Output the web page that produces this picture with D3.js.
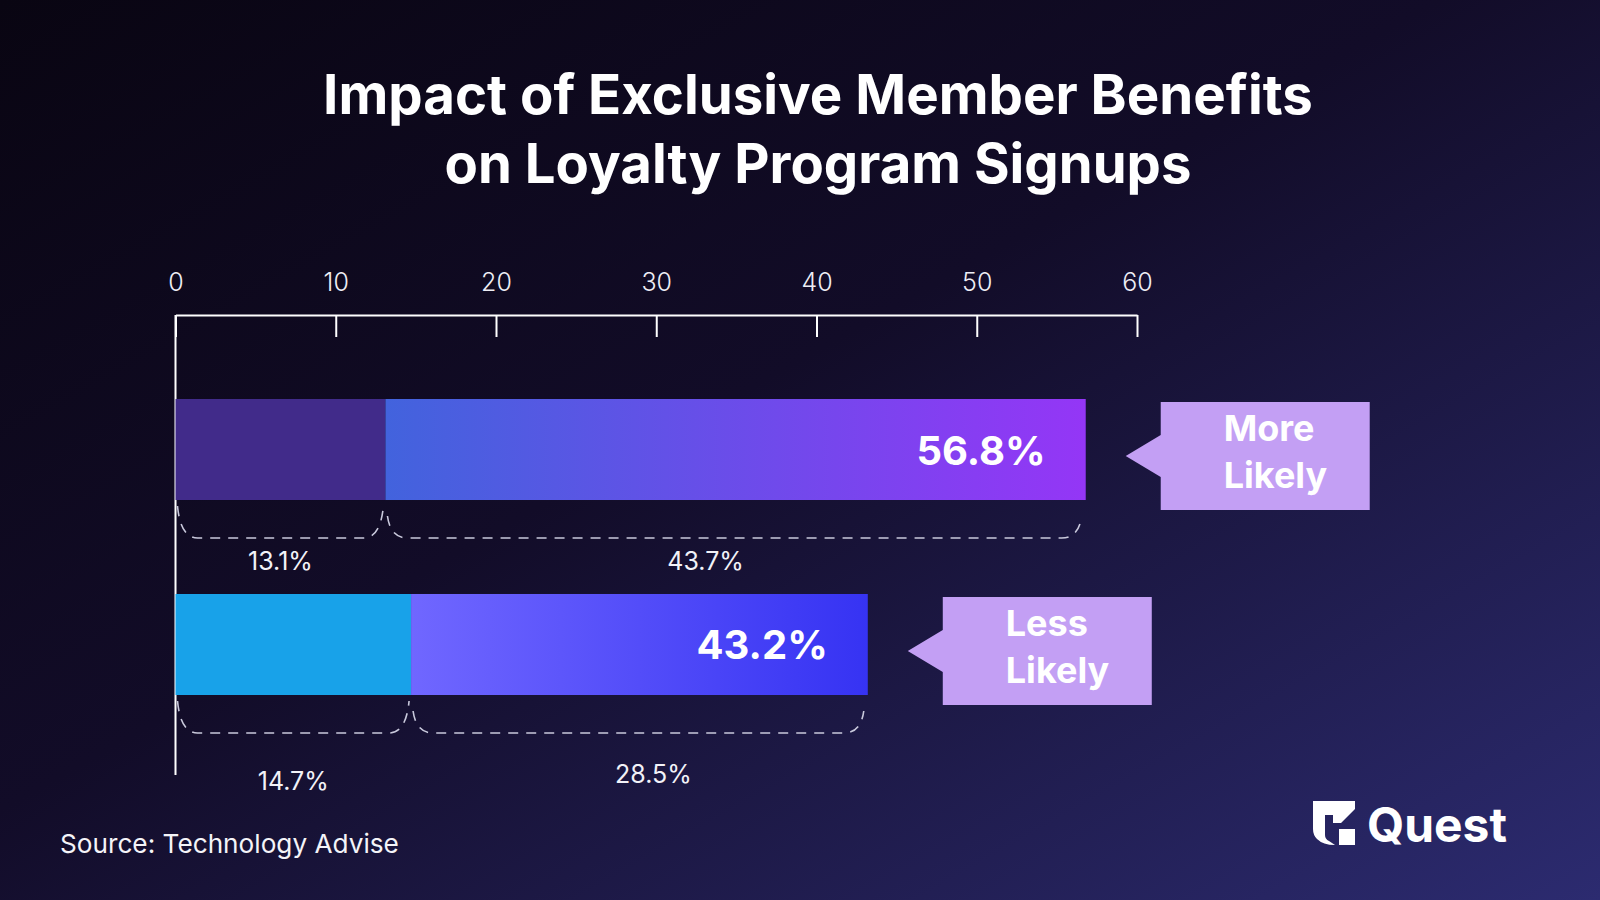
<!DOCTYPE html>
<html>
<head>
<meta charset="utf-8">
<script src="https://cdn.jsdelivr.net/npm/d3@7"></script>
<style>
  html, body { margin: 0; padding: 0; background: #0c0816; }
  svg { display: block; }
</style>
</head>
<body>
<svg id="chart" width="1600" height="900"></svg>
<script>
// ---- data ----
const titleLines = ["Impact of Exclusive Member Benefits", "on Loyalty Program Signups"];
const categories = ["More Likely", "Less Likely"];
const calloutLines = [["More", "Likely"], ["Less", "Likely"]];
const totals = [56.8, 43.2];
const firstPart = [13.1, 14.7];
const secondPart = [43.7, 28.5];
const xTicks = [0, 10, 20, 30, 40, 50, 60];
const sourceText = "Source: Technology Advise";
const brandText = "Quest";

// ---- styles ----
const firstColors = ["#412b8a", "#18a2e9"];
const gradStops = [["#4263dd", "#9436f6"], ["#7067ff", "#3633f3"]];
const calloutColor = "#c39ff4";
const FONT = "Inter, 'Noto Sans', sans-serif";
const secondLabelShift = [-30, 14];

const svg = d3.select("#chart");
const defs = svg.append("defs");

// background
const bg = defs.append("linearGradient").attr("id", "bg")
  .attr("x1", "0").attr("y1", "0").attr("x2", "1").attr("y2", "1");
bg.append("stop").attr("offset", "0%").attr("stop-color", "#090512");
bg.append("stop").attr("offset", "45%").attr("stop-color", "#120c28");
bg.append("stop").attr("offset", "100%").attr("stop-color", "#2c2b70");
svg.append("rect").attr("width", 1600).attr("height", 900).attr("fill", "url(#bg)");

// ---- scales ----
const x = d3.scaleLinear().domain([0, 60]).range([175.5, 1137]);
const y = d3.scaleBand().domain(categories).range([399, 695]).paddingInner(0.482).paddingOuter(0);
const bw = y.bandwidth();

// ---- title ----
const titleTargets = [[990, 114], [747, 183]];
titleLines.forEach((t, i) => {
  const el = svg.append("text")
    .attr("x", 818).attr("y", titleTargets[i][1])
    .attr("text-anchor", "middle")
    .attr("fill", "#ffffff")
    .attr("font-family", FONT).attr("font-weight", 700)
    .attr("font-size", 56)
    .text(t);
  const w = el.node().getComputedTextLength();
  el.attr("font-size", 56 * titleTargets[i][0] / w);
});

// ---- axis ----
const axisG = svg.append("g").attr("transform", "translate(0,315)")
  .call(d3.axisTop(x).tickValues(xTicks).tickSizeInner(-22).tickSizeOuter(0).tickPadding(24));
axisG.select(".domain").attr("stroke", "#ffffff").attr("stroke-width", 2);
axisG.selectAll(".tick line").attr("stroke", "#ffffff").attr("stroke-width", 2);
axisG.selectAll(".tick text")
  .attr("fill", "#eeeef5").attr("font-family", FONT).attr("font-weight", 300)
  .attr("font-size", 25);

// left vertical line
svg.append("line")
  .attr("x1", x(0)).attr("x2", x(0)).attr("y1", 315).attr("y2", 775)
  .attr("stroke", "#ffffff").attr("stroke-width", 2);

// ---- bars ----
categories.forEach((c, i) => {
  const g = defs.append("linearGradient").attr("id", "grad" + i)
    .attr("x1", "0").attr("y1", "0").attr("x2", "1").attr("y2", "0");
  g.append("stop").attr("offset", "0%").attr("stop-color", gradStops[i][0]);
  g.append("stop").attr("offset", "100%").attr("stop-color", gradStops[i][1]);
});

const barG = svg.append("g");
barG.selectAll("rect.first").data(categories).join("rect")
  .attr("class", "first")
  .attr("x", x(0)).attr("y", d => y(d))
  .attr("width", (d, i) => x(firstPart[i]) - x(0))
  .attr("height", bw)
  .attr("fill", (d, i) => firstColors[i]);

barG.selectAll("rect.second").data(categories).join("rect")
  .attr("class", "second")
  .attr("x", (d, i) => x(firstPart[i])).attr("y", d => y(d))
  .attr("width", (d, i) => x(totals[i]) - x(firstPart[i]))
  .attr("height", bw)
  .attr("fill", (d, i) => `url(#grad${i})`);

// total labels inside bars
barG.selectAll("text.total").data(categories).join("text")
  .attr("class", "total")
  .attr("x", (d, i) => x(totals[i]) - 40)
  .attr("y", d => y(d) + bw / 2 + 15)
  .attr("text-anchor", "end")
  .attr("fill", "#ffffff").attr("font-family", FONT).attr("font-weight", 700)
  .attr("font-size", 40)
  .text((d, i) => totals[i].toFixed(1) + "%");

// ---- braces ----
function bracePath(x0, x1, yt, yb) {
  return `M${x0},${yt} Q${x0 + 3},${yb} ${x0 + 20},${yb} L${x1 - 20},${yb} Q${x1 - 3},${yb} ${x1},${yt}`;
}
const braceG = svg.append("g");
categories.forEach((c, i) => {
  const bottom = y(c) + bw;
  const segs = [[0, firstPart[i]], [firstPart[i], totals[i]]];
  segs.forEach((s, j) => {
    const x0 = x(s[0]) + 2;
    const x1 = x(s[1]) - (j === 0 ? 2 : 4);
    braceG.append("path")
      .attr("d", bracePath(x0, x1, bottom + (j === 0 ? 6 : 16), bottom + 38))
      .attr("fill", "none")
      .attr("stroke", "#c9c9dc")
      .attr("stroke-width", 1.6)
      .attr("stroke-dasharray", "10,8");
  });
  const vals = [firstPart[i], secondPart[i]];
  const labelY = [[bottom + 70, bottom + 70], [bottom + 95, bottom + 88]][i];
  segs.forEach((s, j) => {
    braceG.append("text")
      .attr("x", (x(s[0]) + x(s[1])) / 2 + (j === 1 ? secondLabelShift[i] : 0))
      .attr("y", labelY[j])
      .attr("text-anchor", "middle")
      .attr("fill", "#f2f2f8").attr("font-family", FONT).attr("font-weight", 400)
      .attr("font-size", 25)
      .text(vals[j].toFixed(1) + "%");
  });
});

// ---- callouts ----
const calloutG = svg.append("g");
categories.forEach((c, i) => {
  const bx = x(totals[i]) + 75;
  const top = y(c) + 3;
  const h = 108, w = 209;
  const yc = top + h / 2;
  calloutG.append("path")
    .attr("d", `M${bx},${top} H${bx + w} V${top + h} H${bx} V${yc + 21} L${bx - 35},${yc} L${bx},${yc - 21} Z`)
    .attr("fill", calloutColor);
  calloutLines[i].forEach((ln, k) => {
    calloutG.append("text")
      .attr("x", bx + 63)
      .attr("y", top + 39 + k * 47)
      .attr("fill", "#ffffff").attr("font-family", FONT).attr("font-weight", 700)
      .attr("font-size", 36)
      .text(ln);
  });
});

// ---- source ----
const src = svg.append("text")
  .attr("x", 60).attr("y", 853)
  .attr("fill", "#f4f4f8").attr("font-family", FONT).attr("font-weight", 400)
  .attr("font-size", 26)
  .text(sourceText);
const sw = src.node().getComputedTextLength();
src.attr("font-size", 26 * 339 / sw);

// ---- brand logo ----
const logo = svg.append("g").attr("transform", "translate(1313,801)");
logo.append("path")
  .attr("d", "M0,0 H42 V8 L28,22 H20 V14 H12 V34 Q12,38 16,40 L22,44 Q10,44 4,38 Q0,34 0,28 Z")
  .attr("fill", "#ffffff");
logo.append("path")
  .attr("d", "M26,28 H42 V44 H26 Z")
  .attr("fill", "#ffffff");
const brand = logo.append("text")
  .attr("x", 54).attr("y", 41)
  .attr("fill", "#ffffff").attr("font-family", FONT).attr("font-weight", 700)
  .attr("font-size", 46)
  .text(brandText);
const bwid = brand.node().getComputedTextLength();
brand.attr("font-size", 46 * 140 / bwid);
</script>
</body>
</html>
